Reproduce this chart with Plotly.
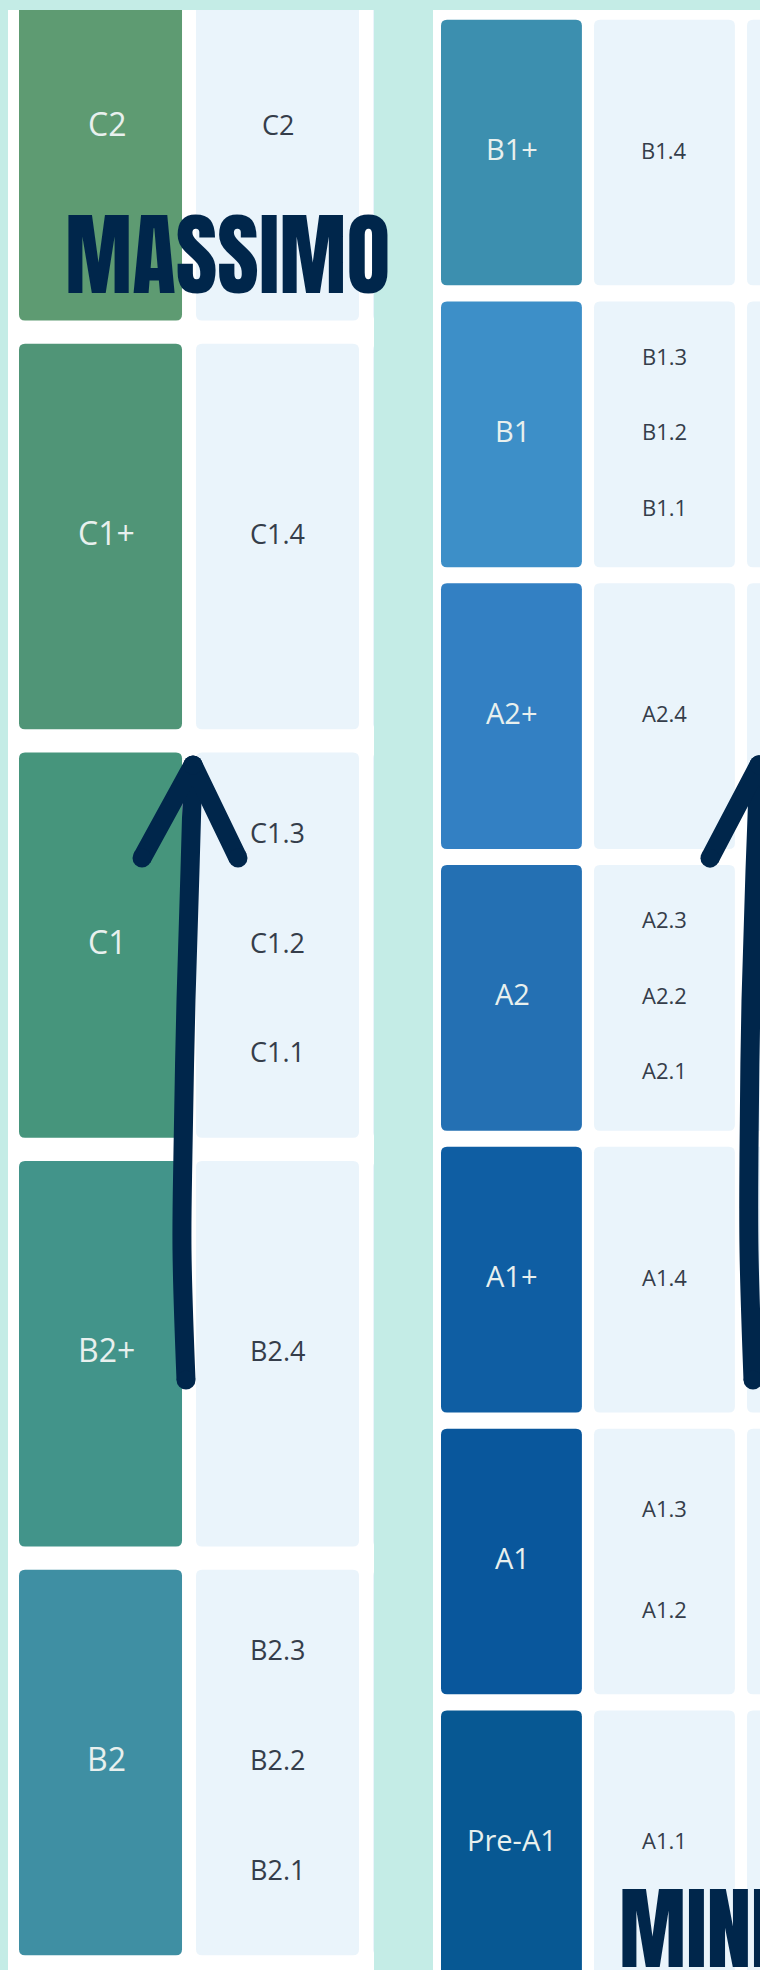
import plotly.graph_objects as go

W, H = 760, 1970

# ---------------- data ----------------
LEFT_LEVELS = ["C2", "C1+", "C1", "B2+", "B2"]
LEFT_SUBLEVELS = [["C2"], ["C1.4"], ["C1.3", "C1.2", "C1.1"], ["B2.4"], ["B2.3", "B2.2", "B2.1"]]
LEFT_COLORS = ["#5E9B72", "#509577", "#46957C", "#42948A", "#3F8FA3"]

RIGHT_LEVELS = ["B1+", "B1", "A2+", "A2", "A1+", "A1", "Pre-A1"]
RIGHT_SUBLEVELS = [["B1.4"], ["B1.3", "B1.2", "B1.1"], ["A2.4"], ["A2.3", "A2.2", "A2.1"],
                   ["A1.4"], ["A1.3", "A1.2"], ["A1.1"]]
RIGHT_COLORS = ["#3C8FAF", "#3D8FC8", "#3380C3", "#2470B3", "#0F5EA3", "#09579C", "#075893"]

TOP_LABEL = "MASSIMO"
BOTTOM_LABEL = "MINIMO"

# ---------------- styles / layout geometry ----------------
BG = "#C4ECE6"
PANEL_BG = "#FFFFFF"
LIGHT_BOX = "#EAF4FB"
NAVY = "#00264B"
DARK_TXT = "#E8F0EE"
LIGHT_TXT = "#353D4A"
LABEL_FONT = "Open Sans, Lato, sans-serif"
TITLE_FONT = "Anton, Oswald, Bebas Neue, sans-serif"

PANEL_TOP_PX, PANEL_BOTTOM_PX = 10, 1970
PANELS = {
    "left": dict(xa="x", ya="y", px0=8, px1=374, col0=19, cpitch=177, row0=127.8, rpitch=408.67,
                 dark_size=32, light_size=27, dark_xshift=6),
    "right": dict(xa="x2", ya="y2", px0=433, px1=760, col0=441, cpitch=153, row0=152.5, rpitch=281.8,
                  dark_size=29, light_size=22, dark_xshift=1),
}
COL_W = 0.921
BOX_H = 0.943
R_PX = 6
SUB_SPACING = {1: 0.0, 2: 0.358, 3: 0.268}
N_COLS = 3

# hand drawn arrows, in grid units of each panel (column, level)
ARROWS = {
    "left": dict(shaft_x=[0.9435, 0.9209, 0.9266, 0.9435, 0.9661, 0.9831],
                 shaft_y=[3.064, 2.746, 2.501, 2.134, 1.816, 1.559],
                 head_x=[0.6949, 0.9831, 1.2373],
                 head_y=[1.787, 1.559, 1.787]),
    "right": dict(shaft_x=[2.0392, 2.0131, 2.0131, 2.0261, 2.0523, 2.0784],
                  shaft_y=[4.356, 3.895, 3.540, 3.008, 2.546, 2.173],
                  head_x=[1.7582, 2.0784, 2.3856],
                  head_y=[2.504, 2.173, 2.504]),
}


def rrect(x0, x1, y0, y1, rx, ry):
    return (f"M{x0+rx},{y0} L{x1-rx},{y0} Q{x1},{y0} {x1},{y0+ry} "
            f"L{x1},{y1-ry} Q{x1},{y1} {x1-rx},{y1} L{x0+rx},{y1} "
            f"Q{x0},{y1} {x0},{y1-ry} L{x0},{y0+ry} Q{x0},{y0} {x0+rx},{y0} Z")


fig = go.Figure()
shapes, annotations = [], []
layout_axes = {}

for key, levels, subs, colors in [("left", LEFT_LEVELS, LEFT_SUBLEVELS, LEFT_COLORS),
                                  ("right", RIGHT_LEVELS, RIGHT_SUBLEVELS, RIGHT_COLORS)]:
    p = PANELS[key]
    xa, ya = p["xa"], p["ya"]
    xr = [(p["px0"] - p["col0"]) / p["cpitch"], (p["px1"] - p["col0"]) / p["cpitch"]]
    yr = [(PANEL_BOTTOM_PX - p["row0"]) / p["rpitch"], (PANEL_TOP_PX - p["row0"]) / p["rpitch"]]
    axname_x = "xaxis" if xa == "x" else "xaxis" + xa[1:]
    axname_y = "yaxis" if ya == "y" else "yaxis" + ya[1:]
    layout_axes[axname_x] = dict(domain=[p["px0"] / W, min(p["px1"] / W, 1)], range=xr,
                                 visible=False, fixedrange=True, anchor=ya)
    layout_axes[axname_y] = dict(domain=[0, 1 - PANEL_TOP_PX / H], range=yr,
                                 visible=False, fixedrange=True, anchor=xa)
    rx, ry = R_PX / p["cpitch"], R_PX / p["rpitch"]

    # panel background
    shapes.append(dict(type="rect", xref=f"{xa} domain", yref=f"{ya} domain", x0=0, x1=1, y0=0, y1=1,
                       fillcolor=PANEL_BG, line=dict(width=0), layer="below"))

    for i, (lvl, sub, col) in enumerate(zip(levels, subs, colors)):
        y0, y1 = i - BOX_H / 2, i + BOX_H / 2
        for c in range(N_COLS):
            fill = col if c == 0 else LIGHT_BOX
            shapes.append(dict(type="path", xref=xa, yref=ya,
                               path=rrect(c, c + COL_W, y0, y1, rx, ry),
                               fillcolor=fill, line=dict(width=0), layer="below"))
        annotations.append(dict(xref=xa, yref=ya, x=COL_W / 2, y=i, text=lvl, showarrow=False,
                                xshift=p["dark_xshift"], yshift=4,
                                font=dict(family=LABEL_FONT, size=p["dark_size"], color=DARK_TXT)))
        n = len(sub)
        sp = SUB_SPACING[n]
        for k, s in enumerate(sub):
            off = (k - (n - 1) / 2) * sp
            annotations.append(dict(xref=xa, yref=ya, x=1 + COL_W / 2, y=i + off, text=s, showarrow=False,
                                    yshift=3,
                                    font=dict(family=LABEL_FONT, size=p["light_size"], color=LIGHT_TXT,
                                              weight=500)))

    a = ARROWS[key]
    fig.add_trace(go.Scatter(x=a["shaft_x"], y=a["shaft_y"], xaxis=xa, yaxis=ya, mode="lines+markers",
                             line=dict(color=NAVY, width=19, shape="spline"),
                             marker=dict(size=[19] + [0] * (len(a["shaft_x"]) - 2) + [19], color=NAVY,
                                         line=dict(width=0), opacity=1),
                             hoverinfo="skip", showlegend=False))
    fig.add_trace(go.Scatter(x=a["head_x"], y=a["head_y"], xaxis=xa, yaxis=ya, mode="lines+markers",
                             line=dict(color=NAVY, width=19),
                             marker=dict(size=19, color=NAVY, line=dict(width=0), opacity=1),
                             hoverinfo="skip", showlegend=False))

annotations.append(dict(xref="paper", yref="paper", x=63 / W, y=1 - 255 / H, xanchor="left", yanchor="middle",
                        text=TOP_LABEL, showarrow=False,
                        font=dict(family=TITLE_FONT, size=90, color=NAVY)))
annotations.append(dict(xref="paper", yref="paper", x=617 / W, y=1 - 1929 / H, xanchor="left", yanchor="middle",
                        text=BOTTOM_LABEL, showarrow=False,
                        font=dict(family=TITLE_FONT, size=90, color=NAVY)))

fig.update_layout(width=W, height=H, margin=dict(l=0, r=0, t=0, b=0), paper_bgcolor=BG,
                  plot_bgcolor="rgba(0,0,0,0)", shapes=shapes, annotations=annotations,
                  showlegend=False, **layout_axes)

fig.write_html("out.html", config=dict(displayModeBar=False, staticPlot=True),
               post_script="document.body.style.margin='0';document.body.style.padding='0';")
